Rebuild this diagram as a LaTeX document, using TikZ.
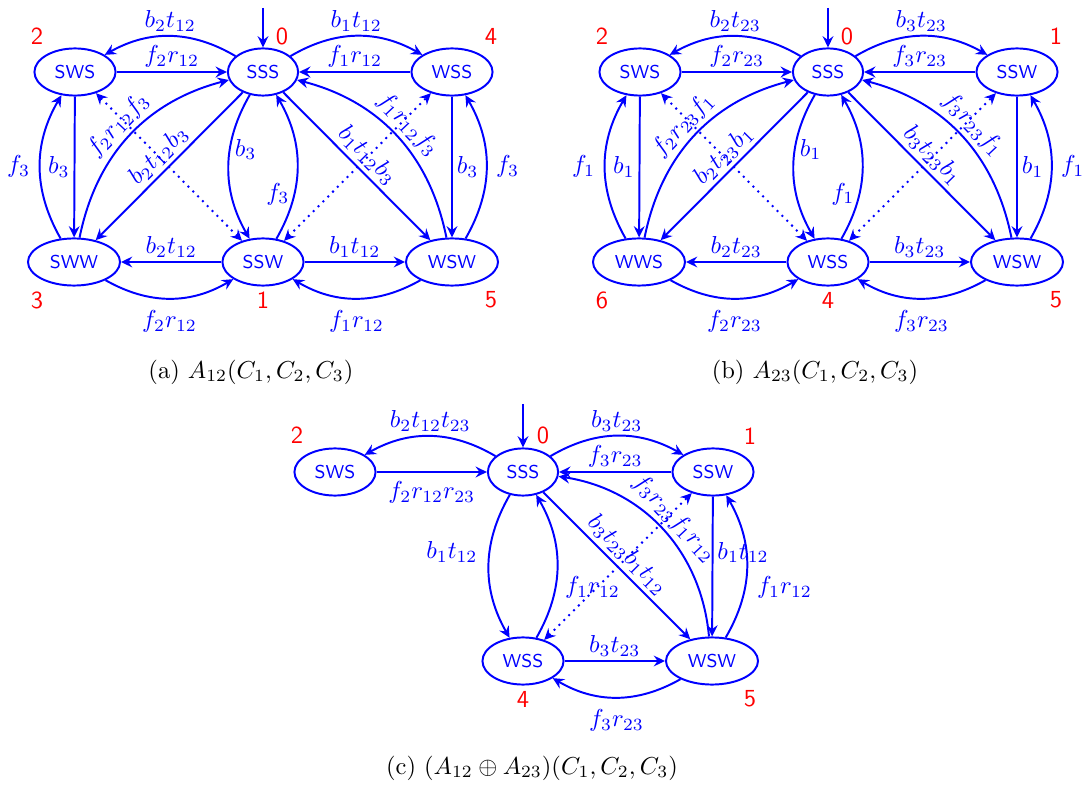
\documentclass[tikz,border=0pt]{standalone}
\usetikzlibrary{arrows.meta,shapes.geometric}
\definecolor{myblue}{RGB}{0,0,255}
\definecolor{myred}{RGB}{255,0,0}
\tikzset{
  st/.style={ellipse, draw=myblue, thick, text=myblue,
    font=\sffamily\fontsize{7.6}{9}\selectfont, inner xsep=3.4pt, inner ysep=4pt},
  num/.style={text=myred, font=\sffamily\fontsize{10}{12}\selectfont},
  tip/.tip={Stealth[length=4.6pt,width=4.4pt,inset=1.6pt]},
  ed/.style={draw=myblue, thick, -tip},
  dt/.style={draw=myblue, thick, dotted, tip-tip},
  lb/.style={text=myblue, inner sep=1.6pt},
  captxt/.style={text=black},
}
\begin{document}
\begin{tikzpicture}[x=0.408pt,y=0.408pt]
\useasboundingbox (0,0) rectangle (1089,785);
% ---------------- (a) ----------------
\node[st] (a2) at (75,713) {SWS};
\node[st] (a0) at (263,713) {SSS};
\node[st] (a4) at (452,713) {WSS};
\node[st] (a3) at (74,523) {SWW};
\node[st] (a1) at (263,523) {SSW};
\node[st] (a5) at (452,523) {WSW};
\node[num] (na2) at (37,749) {2};
\node[num] (na0) at (282,749) {0};
\node[num] (na4) at (491,749) {4};
\node[num] (na3) at (37,485) {3};
\node[num] (na1) at (263,485) {1};
\node[num] (na5) at (491,485) {5};
\coordinate (a0in) at (263,777);
\draw[ed] (a0in) -- (a0);
\draw[ed] (a0) to[bend right=30] node[lb,above]{$b_2t_{12}$} (a2);
\draw[ed] (a2) -- node[lb,above]{$f_2r_{12}$} (a0);
\draw[ed] (a0) to[bend left=30] node[lb,above]{$b_1t_{12}$} (a4);
\draw[ed] (a4) -- node[lb,above]{$f_1r_{12}$} (a0);
\draw[ed] (a2) -- node[lb,left]{$b_3$} (a3);
\draw[ed] (a3) to[bend left=30] node[lb,left=2pt]{$f_3$} (a2);
\draw[ed] (a3) to[bend left=32] node[lb,sloped,above]{$f_2r_{12}f_3$} (a0);
\draw[ed] (a0) -- node[lb,sloped,above]{$b_2t_{12}b_3$} (a3);
\draw[ed] (a0) to[bend right=30] node[lb,pos=0.38,right]{$b_3$} (a1);
\draw[ed] (a1) to[bend right=30] node[lb,pos=0.31,left]{$f_3$} (a0);
\draw[ed] (a0) -- node[lb,sloped,above]{$b_1t_{12}b_3$} (a5);
\draw[ed] (a5) to[bend right=32] node[lb,sloped,above]{$f_1r_{12}f_3$} (a0);
\draw[ed] (a4) -- node[lb,right]{$b_3$} (a5);
\draw[ed] (a5) to[bend right=30] node[lb,right=2pt]{$f_3$} (a4);
\draw[ed] (a1) -- node[lb,above]{$b_2t_{12}$} (a3);
\draw[ed] (a3) to[bend right=30] node[lb,below=3pt]{$f_2r_{12}$} (a1);
\draw[ed] (a1) -- node[lb,above]{$b_1t_{12}$} (a5);
\draw[ed] (a5) to[bend left=30] node[lb,below=3pt]{$f_1r_{12}$} (a1);
\draw[dt] (a1) -- (a2);
\draw[dt] (a1) -- (a4);
\node[captxt] (capa) at (251,413) {(a) $A_{12}(C_1,C_2,C_3)$};
% ---------------- (b) ----------------
\node[st] (b2) at (640,713) {SWS};
\node[st] (b0) at (828,713) {SSS};
\node[st] (b1) at (1017,713) {SSW};
\node[st] (b6) at (639,523) {WWS};
\node[st] (b4) at (828,523) {WSS};
\node[st] (b5) at (1017,523) {WSW};
\node[num] (nb2) at (602,749) {2};
\node[num] (nb0) at (847,749) {0};
\node[num] (nb1) at (1056,749) {1};
\node[num] (nb6) at (602,485) {6};
\node[num] (nb4) at (828,485) {4};
\node[num] (nb5) at (1056,485) {5};
\coordinate (b0in) at (828,777);
\draw[ed] (b0in) -- (b0);
\draw[ed] (b0) to[bend right=30] node[lb,above]{$b_2t_{23}$} (b2);
\draw[ed] (b2) -- node[lb,above]{$f_2r_{23}$} (b0);
\draw[ed] (b0) to[bend left=30] node[lb,above]{$b_3t_{23}$} (b1);
\draw[ed] (b1) -- node[lb,above]{$f_3r_{23}$} (b0);
\draw[ed] (b2) -- node[lb,left]{$b_1$} (b6);
\draw[ed] (b6) to[bend left=30] node[lb,left=2pt]{$f_1$} (b2);
\draw[ed] (b6) to[bend left=32] node[lb,sloped,above]{$f_2r_{23}f_1$} (b0);
\draw[ed] (b0) -- node[lb,sloped,above]{$b_2t_{23}b_1$} (b6);
\draw[ed] (b0) to[bend right=30] node[lb,pos=0.38,right]{$b_1$} (b4);
\draw[ed] (b4) to[bend right=30] node[lb,pos=0.31,left]{$f_1$} (b0);
\draw[ed] (b0) -- node[lb,sloped,above]{$b_3t_{23}b_1$} (b5);
\draw[ed] (b5) to[bend right=32] node[lb,sloped,above]{$f_3r_{23}f_1$} (b0);
\draw[ed] (b1) -- node[lb,right]{$b_1$} (b5);
\draw[ed] (b5) to[bend right=30] node[lb,right=2pt]{$f_1$} (b1);
\draw[ed] (b4) -- node[lb,above]{$b_2t_{23}$} (b6);
\draw[ed] (b6) to[bend right=30] node[lb,below=3pt]{$f_2r_{23}$} (b4);
\draw[ed] (b4) -- node[lb,above]{$b_3t_{23}$} (b5);
\draw[ed] (b5) to[bend left=30] node[lb,below=3pt]{$f_3r_{23}$} (b4);
\draw[dt] (b4) -- (b2);
\draw[dt] (b4) -- (b1);
\node[captxt] (capb) at (815,413) {(b) $A_{23}(C_1,C_2,C_3)$};
% ---------------- (c) ----------------
\node[st] (c2) at (335,313) {SWS};
\node[st] (c0) at (523,313) {SSS};
\node[st] (c1) at (713,313) {SSW};
\node[st] (c4) at (523,124) {WSS};
\node[st] (c5) at (712,124) {WSW};
\node[num] (nc2) at (297,350) {2};
\node[num] (nc0) at (543,350) {0};
\node[num] (nc1) at (750,349) {1};
\node[num] (nc4) at (523,86) {4};
\node[num] (nc5) at (750,86) {5};
\coordinate (c0in) at (523,381);
\draw[ed] (c0in) -- (c0);
\draw[ed] (c0) to[bend right=30] node[lb,above]{$b_2t_{12}t_{23}$} (c2);
\draw[ed] (c2) -- node[lb,below=2pt]{$f_2r_{12}r_{23}$} (c0);
\draw[ed] (c0) to[bend left=30] node[lb,above]{$b_3t_{23}$} (c1);
\draw[ed] (c1) -- node[lb,above]{$f_3r_{23}$} (c0);
\draw[ed] (c0) to[bend right=30] node[lb,pos=0.4,left=3pt]{$b_1t_{12}$} (c4);
\draw[ed] (c4) to[bend right=30] node[lb,pos=0.35,right=2pt]{$f_1r_{12}$} (c0);
\draw[ed] (c0) -- node[lb,sloped,above]{$b_3t_{23}b_1t_{12}$} (c5);
\draw[ed] (c5) to[bend right=38] node[lb,sloped,above]{$f_3r_{23}f_1r_{12}$} (c0);
\draw[ed] (c1) -- node[lb,pos=0.4,right]{$b_1t_{12}$} (c5);
\draw[ed] (c5) to[bend right=30] node[lb,pos=0.35,right=3pt]{$f_1r_{12}$} (c1);
\draw[ed] (c4) -- node[lb,above]{$b_3t_{23}$} (c5);
\draw[ed] (c5) to[bend left=30] node[lb,below=3pt]{$f_3r_{23}$} (c4);
\draw[dt] (c4) -- (c1);
\node[captxt] (capc) at (532,17) {(c) $(A_{12}\oplus A_{23})(C_1,C_2,C_3)$};
\end{tikzpicture}
\end{document}
